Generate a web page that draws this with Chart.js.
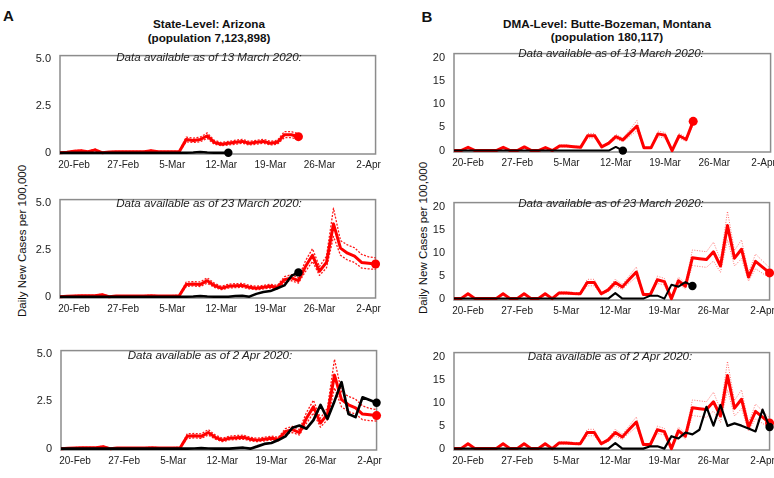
<!DOCTYPE html>
<html>
<head>
<meta charset="utf-8">
<script src="https://cdn.jsdelivr.net/npm/chart.js@4.4.1/dist/chart.umd.min.js"></script>
<style>
  body { margin:0; width:774px; height:478px; position:relative; overflow:hidden; background:#fff;
         font-family:"Liberation Sans", Arial, sans-serif; color:#111; }
  .t { position:absolute; white-space:nowrap; transform:translate(-50%,-50%); line-height:1.15; }
  .b { font-weight:bold; font-size:11.7px; }
  .it { font-style:italic; font-size:11.6px; color:#222; }
  .lt { font-weight:bold; font-size:15px; }
  .yt { font-size:11.5px; transform:translate(-50%,-50%) rotate(-90deg); }
  canvas { position:absolute; }
</style>
</head>
<body>
<div class="t lt" style="left:8.5px;top:15.5px">A</div>
<div class="t lt" style="left:427px;top:16.5px">B</div>
<div class="t b" style="left:209px;top:24px">State-Level: Arizona</div>
<div class="t b" style="left:209px;top:37.5px">(population 7,123,898)</div>
<div class="t b" style="left:607px;top:24px">DMA-Level: Butte-Bozeman, Montana</div>
<div class="t b" style="left:607px;top:37px">(population 180,117)</div>
<div class="t yt" style="left:23px;top:241px">Daily New Cases per 100,000</div>
<div class="t yt" style="left:423.5px;top:238px">Daily New Cases per 100,000</div>

<canvas id="a1"></canvas><canvas id="a2"></canvas><canvas id="a3"></canvas>
<canvas id="b1"></canvas><canvas id="b2"></canvas><canvas id="b3"></canvas>

<div class="t it" style="left:209px;top:57px">Data available as of 13 March 2020:</div>
<div class="t it" style="left:209px;top:203px">Data available as of 23 March 2020:</div>
<div class="t it" style="left:210px;top:355px">Data available as of 2 Apr 2020:</div>
<div class="t it" style="left:611px;top:53px">Data available as of 13 March 2020:</div>
<div class="t it" style="left:611px;top:203px">Data available as of 23 March 2020:</div>
<div class="t it" style="left:610px;top:356px">Data available as of 2 Apr 2020:</div>

<script>
// day index 0 = 18-Feb ... 45 = 3-Apr
const TICK_DAYS = [2, 9, 16, 23, 30, 37, 44];
const TICK_LABELS = ['20-Feb', '27-Feb', '5-Mar', '12-Mar', '19-Mar', '26-Mar', '2-Apr'];
const A_Y_TICKS = [0, 2.5, 5];
const A_Y_LABELS = ['0', '2.5', '5.0'];
const B_Y_TICKS = [0, 5, 10, 15, 20];
const B_Y_LABELS = ['0', '5', '10', '15', '20'];

// Arizona, estimate as of 13 March (to 23-Mar)
const A_RED_TOP = [0, 0.02, 0.08, 0.1, 0.05, 0.15, 0, 0.03, 0.05, 0.05, 0.05, 0.05, 0.05, 0.1, 0.05, 0.05, 0.05, 0.05,
  0.7, 0.65, 0.7, 0.9, 0.55, 0.45, 0.5, 0.55, 0.6, 0.5, 0.55, 0.6, 0.5, 0.55, 0.95, 0.95, 0.85];
const A_RED_TOP_UP = [0.02, 0.04, 0.11, 0.13, 0.07, 0.19, 0.02, 0.05, 0.07, 0.07, 0.07, 0.07, 0.07, 0.13, 0.07, 0.07, 0.07, 0.07,
  0.83, 0.77, 0.83, 1.05, 0.66, 0.54, 0.6, 0.66, 0.71, 0.6, 0.66, 0.71, 0.6, 0.66, 1.12, 1.12, 1.0];
const A_RED_TOP_LO = [0, 0.01, 0.05, 0.07, 0.03, 0.11, 0, 0.02, 0.03, 0.03, 0.03, 0.03, 0.03, 0.07, 0.03, 0.03, 0.03, 0.03,
  0.58, 0.54, 0.58, 0.76, 0.45, 0.37, 0.41, 0.45, 0.5, 0.41, 0.45, 0.5, 0.41, 0.45, 0.8, 0.8, 0.72];
const A_BLACK_TOP = [0, 0, 0, 0, 0, 0, 0, 0, 0, 0, 0, 0, 0, 0, 0, 0, 0, 0, 0, 0.01, 0.03, 0.01, 0, 0, 0];

// Arizona, estimate used in the 23 March and 2 April panels
const A_RED = [0, 0.02, 0.04, 0.05, 0.05, 0.05, 0.1, 0, 0.03, 0.03, 0.04, 0.03, 0.04, 0.05, 0.03, 0.03, 0.04, 0.05,
  0.65, 0.68, 0.65, 0.85, 0.6, 0.45, 0.55, 0.58, 0.6, 0.5, 0.45, 0.5, 0.55, 0.5, 0.9, 1.0, 0.85,
  1.6, 2.2, 1.35, 1.82, 3.87, 2.58, 2.31, 2.15, 1.82, 1.78, 1.74];
const A_RED_UP = [0.02, 0.04, 0.06, 0.07, 0.07, 0.07, 0.14, 0.02, 0.05, 0.05, 0.06, 0.05, 0.06, 0.07, 0.05, 0.05, 0.06, 0.07,
  0.78, 0.8, 0.78, 1.0, 0.72, 0.55, 0.66, 0.69, 0.71, 0.6, 0.55, 0.6, 0.66, 0.6, 1.06, 1.17, 1.0,
  1.9, 2.55, 1.6, 2.15, 4.7, 2.98, 2.75, 2.6, 2.25, 2.12, 2.06];
const A_RED_LO = [0, 0.01, 0.02, 0.03, 0.03, 0.03, 0.07, 0, 0.02, 0.02, 0.03, 0.02, 0.03, 0.03, 0.02, 0.02, 0.03, 0.03,
  0.54, 0.57, 0.54, 0.72, 0.5, 0.37, 0.46, 0.48, 0.5, 0.41, 0.37, 0.41, 0.46, 0.41, 0.76, 0.85, 0.72,
  1.33, 1.88, 1.13, 1.53, 3.2, 2.2, 1.95, 1.82, 1.52, 1.48, 1.45];
const A_BLACK_MID = [0, 0, 0, 0, 0, 0, 0, 0, 0, 0, 0, 0, 0, 0, 0, 0, 0, 0, 0, 0.01, 0.03, 0.01, 0, 0, 0,
  0.03, 0.05, 0, 0.15, 0.25, 0.3, 0.45, 0.6, 1.1, 1.29];
const A_BLACK_BOT = [0, 0, 0, 0, 0, 0, 0, 0, 0, 0, 0, 0, 0, 0, 0, 0, 0, 0, 0, 0.01, 0.03, 0.01, 0, 0, 0,
  0.03, 0.05, 0, 0.12, 0.25, 0.3, 0.45, 0.65, 1.1, 1.22, 1.05, 1.5, 2.3, 1.57, 2.5, 3.5, 1.82, 1.66, 2.7, 2.56, 2.42];

// Butte-Bozeman
const B_RED_TOP = [0, 0, 0.7, 0, 0, 0, 0, 0.7, 0, 0, 0.8, 0, 0, 0.65, 0,
  1.0, 1.0, 0.85, 0.7, 3.2, 3.2, 0.8, 1.6, 3.0, 2.3, 3.8, 5.3, 0.6, 0.6, 3.6, 3.3, 0, 3.2, 2.4, 6.3];
const B_RED_TOP_UP = [0, 0, 0.85, 0, 0, 0, 0, 0.85, 0, 0, 0.95, 0, 0, 0.8, 0,
  1.2, 1.2, 1.0, 0.85, 3.7, 3.7, 0.95, 1.9, 3.5, 2.7, 4.5, 6.5, 0.72, 0.72, 4.2, 3.9, 0, 3.7, 2.8, 6.9];
const B_RED_TOP_LO = [0, 0, 0.55, 0, 0, 0, 0, 0.55, 0, 0, 0.65, 0, 0, 0.5, 0,
  0.8, 0.8, 0.7, 0.55, 2.7, 2.7, 0.65, 1.3, 2.5, 1.9, 3.1, 4.3, 0.48, 0.48, 3.0, 2.7, 0, 2.7, 2.0, 5.7];
const B_BLACK_TOP = [0, 0, 0, 0, 0, 0, 0, 0, 0, 0, 0, 0, 0, 0, 0, 0, 0, 0, 0, 0, 0, 0, 0, 0.8, 0];

const B_RED = [0, 0, 1.05, 0, 0, 0, 0, 1.05, 0, 0, 1.05, 0, 0, 1.05, 0,
  1.25, 1.2, 1.1, 1.05, 3.5, 3.5, 1.05, 1.9, 3.5, 2.55, 4.2, 5.8, 0.9, 0.9, 4.1, 3.7, 0, 3.9, 2.7,
  8.9, 8.7, 8.5, 10.2, 7.1, 15.9, 8.8, 10.75, 4.7, 8.1, 6.85, 5.6];
const B_RED_UP = [0, 0, 1.3, 0, 0, 0, 0, 1.3, 0, 0, 1.3, 0, 0, 1.3, 0,
  1.5, 1.45, 1.35, 1.3, 4.2, 4.2, 1.3, 2.3, 4.2, 3.1, 5.0, 6.9, 1.1, 1.1, 4.9, 4.4, 0, 4.7, 3.3,
  10.6, 10.4, 10.2, 12.3, 8.5, 19.0, 10.5, 12.8, 5.7, 9.7, 8.2, 6.7];
const B_RED_LO = [0, 0, 0.8, 0, 0, 0, 0, 0.8, 0, 0, 0.8, 0, 0, 0.8, 0,
  1.0, 0.95, 0.88, 0.8, 2.8, 2.8, 0.8, 1.5, 2.8, 2.0, 3.4, 4.7, 0.7, 0.7, 3.3, 3.0, 0, 3.1, 2.1,
  7.2, 7.0, 6.8, 8.2, 5.7, 12.8, 7.1, 8.7, 3.8, 6.5, 5.5, 4.5];
const B_BLACK_MID = [0, 0, 0, 0, 0, 0, 0, 0, 0, 0, 0, 0, 0, 0, 0, 0, 0, 0, 0, 0, 0, 0, 0, 1.2,
  0, 0, 0, 0, 0.65, 0.65, 0, 3.0, 2.6, 3.6, 2.75];
const B_BLACK_BOT = [0, 0, 0, 0, 0, 0, 0, 0, 0, 0, 0, 0, 0, 0, 0, 0, 0, 0, 0, 0, 0, 0, 0, 1.2,
  0, 0, 0, 0, 0.5, 0.5, 0, 2.7, 2.2, 3.5, 3.1, 4.1, 9.1, 5.0, 9.5, 4.95, 5.5, 5.0, 4.4, 3.75, 8.5, 4.7];

const FONT = "'Liberation Sans', Arial, sans-serif";

// plot box frame, drawn under the lines
const frame = {
  id: 'frame',
  beforeDatasetsDraw(chart) {
    const a = chart.chartArea, ctx = chart.ctx;
    ctx.save();
    ctx.strokeStyle = '#8c8c8c';
    ctx.lineWidth = 1.5;
    ctx.strokeRect(a.left, a.top, a.right - a.left, a.bottom - a.top);
    ctx.restore();
  }
};

function line(data, color, width, dash, dot) {
  return {
    data: data.map((v, i) => ({ x: i, y: v })),
    borderColor: color, backgroundColor: color,
    borderWidth: width, borderDash: dash || [],
    borderJoinStyle: 'round',
    pointRadius: dot ? (c => c.dataIndex === data.length - 1 ? dot : 0) : 0,
    pointHoverRadius: 0, pointBorderWidth: 0,
    tension: 0, fill: false, clip: false
  };
}

// box = plot rect in page px: [left, top, right, bottom]
function panel(id, box, yMin, yMax, yTicks, yLabels, datasets) {
  const c = document.getElementById(id);
  const w = box[2] - box[0] + 55, h = box[3] - box[1] + 30;
  c.width = w; c.height = h;
  c.style.left = (box[0] - 45) + 'px';
  c.style.top = (box[1] - 6) + 'px';
  new Chart(c.getContext('2d'), {
    type: 'line',
    data: { datasets },
    plugins: [frame],
    options: {
      responsive: false, animation: false, devicePixelRatio: 1,
      layout: { padding: { top: 6, right: 10, left: 0, bottom: 0 } },
      plugins: { legend: { display: false }, tooltip: { enabled: false } },
      scales: {
        x: {
          type: 'linear', min: 0, max: 45,
          grid: { display: false, drawTicks: false }, border: { display: false },
          afterBuildTicks: s => { s.ticks = TICK_DAYS.map(v => ({ value: v })); },
          afterFit: s => { s.height = 24; },
          ticks: { autoSkip: false, maxRotation: 0, padding: 5, color: '#222',
                   font: { size: 10, family: FONT }, callback: (v, i) => TICK_LABELS[i] }
        },
        y: {
          min: yMin, max: yMax,
          grid: { display: false, drawTicks: false }, border: { display: false },
          afterBuildTicks: s => { s.ticks = yTicks.map(v => ({ value: v })); },
          afterFit: s => { s.width = 45; },
          ticks: { padding: 9, color: '#222', font: { size: 11, family: FONT },
                   callback: (v, i) => yLabels[i] }
        }
      }
    }
  });
}

const RED = '#ff0000';
const A_DOT = 'rgba(255,0,0,0.9)';
const B_DOT = 'rgba(255,70,70,0.75)';

panel('a1', [60, 46, 376, 154], -0.07, 5.16, A_Y_TICKS, A_Y_LABELS, [
  line(A_BLACK_TOP, '#000', 2.5, null, 4.2),
  line(A_RED_TOP, RED, 3, null, 4.5),
  line(A_RED_TOP_UP, A_DOT, 1.3, [2, 1.5]),
  line(A_RED_TOP_LO, A_DOT, 1.3, [2, 1.5])
]);
panel('a2', [60, 190, 376, 298], -0.07, 5.16, A_Y_TICKS, A_Y_LABELS, [
  line(A_BLACK_MID, '#000', 2.5, null, 4.2),
  line(A_RED, RED, 3, null, 4.5),
  line(A_RED_UP, A_DOT, 1.3, [2, 1.5]),
  line(A_RED_LO, A_DOT, 1.3, [2, 1.5])
]);
panel('a3', [61, 341, 377, 450], -0.07, 5.16, A_Y_TICKS, A_Y_LABELS, [
  line(A_BLACK_BOT, '#000', 2.7, null, 4.2),
  line(A_RED, RED, 3, null, 4.5),
  line(A_RED_UP, A_DOT, 1.3, [2, 1.5]),
  line(A_RED_LO, A_DOT, 1.3, [2, 1.5])
]);
panel('b1', [454, 44, 771, 152], -0.3, 20.9, B_Y_TICKS, B_Y_LABELS, [
  line(B_BLACK_TOP, '#000', 2, null, 4.2),
  line(B_RED_TOP, RED, 3, null, 4.5),
  line(B_RED_TOP_UP, B_DOT, 1, [1, 1.5]),
  line(B_RED_TOP_LO, B_DOT, 1, [1, 1.5])
]);
panel('b2', [454, 193, 770, 300], -0.3, 20.9, B_Y_TICKS, B_Y_LABELS, [
  line(B_BLACK_MID, '#000', 2, null, 4.2),
  line(B_RED, RED, 3, null, 4.5),
  line(B_RED_UP, B_DOT, 1, [1, 1.5]),
  line(B_RED_LO, B_DOT, 1, [1, 1.5])
]);
panel('b3', [454, 343, 770, 450], -0.3, 20.9, B_Y_TICKS, B_Y_LABELS, [
  line(B_BLACK_BOT, '#000', 2.2, null, 4.2),
  line(B_RED, RED, 3, null, 4.5),
  line(B_RED_UP, B_DOT, 1, [1, 1.5]),
  line(B_RED_LO, B_DOT, 1, [1, 1.5])
]);
</script>
</body>
</html>
